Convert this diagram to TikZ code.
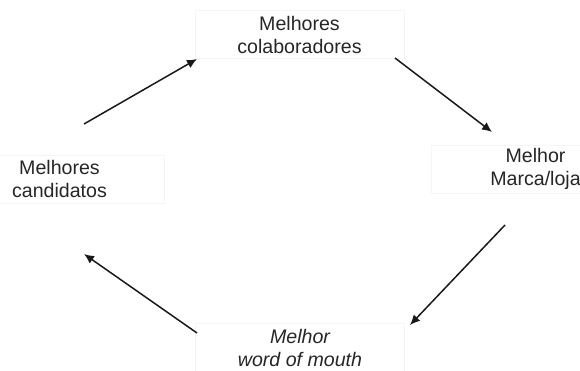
\documentclass[tikz,border=0pt]{standalone}
\usepackage{fontspec}
\setmainfont{Liberation Sans}
\usetikzlibrary{arrows.meta}
\begin{document}
\begin{tikzpicture}[x=1pt,y=-1pt,
  box/.style={draw=black!4, line width=0.6pt, minimum width=209pt, minimum height=48pt,
    align=center, inner sep=0pt, font=\fontsize{19.6}{23}\selectfont, text=black!85},
  arr/.style={line width=1.5pt, -{Latex[length=10pt,width=9pt]}, black!90}]
\useasboundingbox (0,0) rectangle (580,370);
\begin{scope}
\clip (0,0) rectangle (580,370);
\node[box] (top) at (299.5,34.5) {Melhores\\colaboradores};
\node[box] (left) at (59.5,179) {Melhores\\candidatos};
\node[box] (right) at (535.5,169) {Melhor\\Marca/loja};
\node[box, font=\fontsize{19.6}{23}\selectfont\itshape] (bottom) at (300,347.5) {Melhor\\word of mouth};
\end{scope}
\coordinate (a1) at (84,124);  \coordinate (b1) at (197,59);
\coordinate (a2) at (395,58);  \coordinate (b2) at (492,132);
\coordinate (a3) at (505,225); \coordinate (b3) at (410,325);
\coordinate (a4) at (197,333); \coordinate (b4) at (84,254);
\draw[arr] (a1) -- (b1);
\draw[arr] (a2) -- (b2);
\draw[arr] (a3) -- (b3);
\draw[arr] (a4) -- (b4);
\end{tikzpicture}
\end{document}
